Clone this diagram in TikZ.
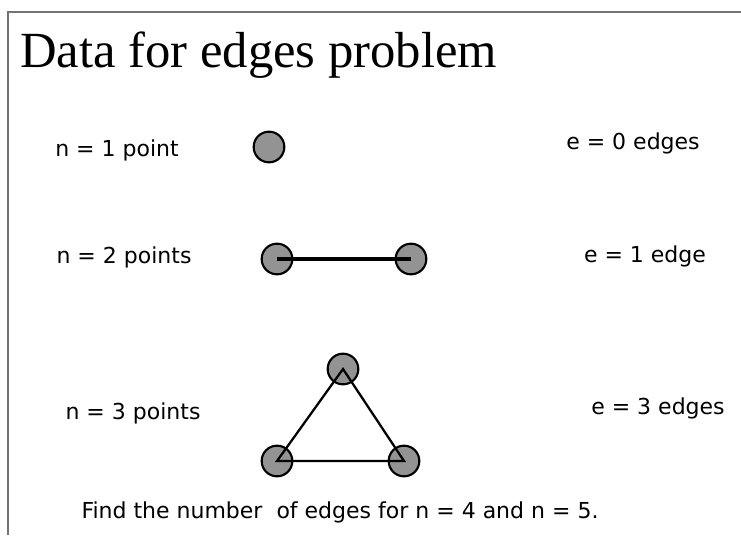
\documentclass[tikz,border=0pt]{standalone}
\usepackage{fontspec}
\setmainfont{DejaVu Sans}
\newfontfamily\titlefont{Liberation Serif}
\usepackage{tikz}

\tikzset{
  dot/.style={circle, draw=black, line width=1.6pt, fill=gray!85!white, minimum size=23pt, inner sep=0pt},
  label/.style={font=\fontsize{16.5}{19}\selectfont, inner sep=0pt},
  edge/.style={draw=black, line width=1.7pt}
}

\begin{document}
\begin{tikzpicture}[x=0.75pt,y=-0.75pt]
\useasboundingbox (0,0) rectangle (741,535);
\draw [gray!90!black, line width=1.8pt] (8,535) -- (8,12) -- (741,12);
\node [anchor=base west, inner sep=0pt, font=\titlefont\fontsize{38}{44}\selectfont] (title) at (20,67) {Data for edges problem};
% n = 1
\node [label] (n1) at (117,150) {n = 1 point};
\node [dot] (p1) at (269,147) {};
\node [label] (e1) at (633,143) {e = 0 edges};
% n = 2
\node [label] (n2) at (124,257) {n = 2 points};
\node [dot] (q1) at (277,259) {};
\node [dot] (q2) at (411,259) {};
\draw [edge, line width=3pt] (q1.center) -- (q2.center);
\node [label] (e2) at (645,256) {e = 1 edge};
% n = 3
\node [label] (n3) at (133,413) {n = 3 points};
\node [dot] (r1) at (343,369) {};
\node [dot] (r2) at (277,461) {};
\node [dot] (r3) at (404,461) {};
\draw [edge] (r1.center) -- (r2.center) -- (r3.center) -- cycle;
\node [label] (e3) at (658,408) {e = 3 edges};
\node [label] (task) at (340,512) {Find the number\ \ of edges for n = 4 and n = 5.};
\end{tikzpicture}
\end{document}
